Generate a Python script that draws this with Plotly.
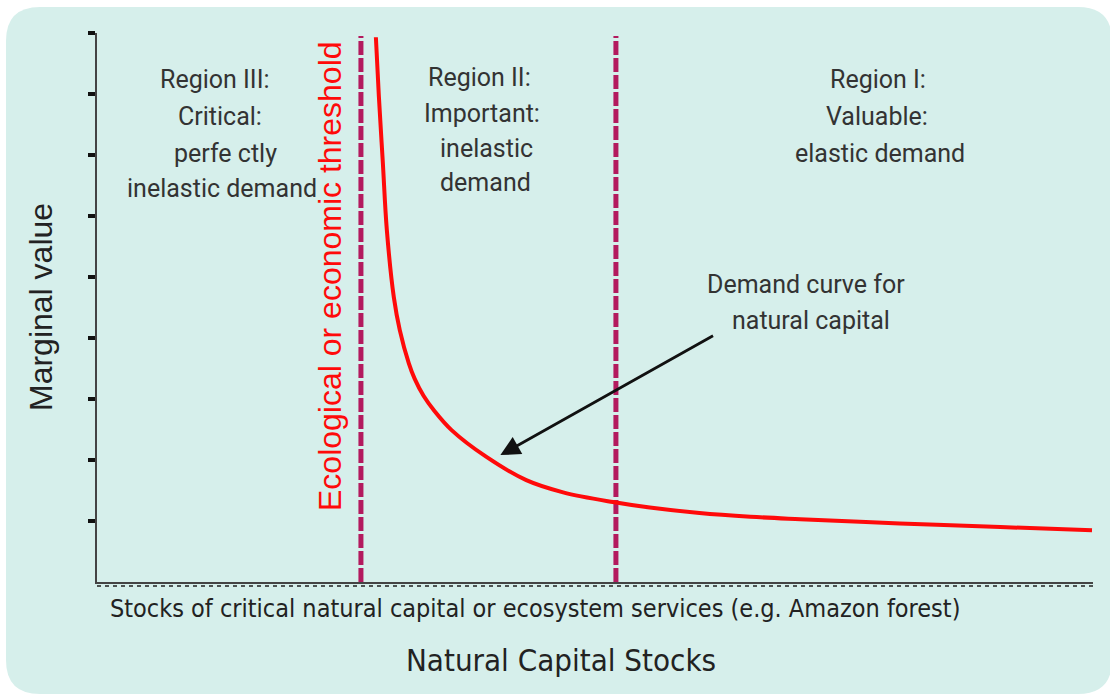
import plotly.graph_objects as go

# ---------------- data ----------------
curve_x = [2.80, 2.83, 2.87, 2.91, 2.98, 3.04, 3.13, 3.19, 3.28, 3.39, 3.56, 3.91, 4.31, 4.68,
           5.18, 5.55, 6.05, 6.56, 7.06, 8.06, 9.07, 9.99]
curve_y = [8.93, 7.96, 6.87, 5.77, 4.67, 4.13, 3.59, 3.33, 3.05, 2.80, 2.49, 2.05, 1.67, 1.47,
           1.31, 1.22, 1.13, 1.07, 1.03, 0.96, 0.90, 0.85]
thresholds = [2.65, 5.21]
threshold_top = 8.95
y_ticks = [1, 2, 3, 4, 5, 6, 7, 8, 9]
arrow_tail = (6.20, 4.05)
arrow_head = (4.05, 2.08)

region3_lines = ["Region III:", "Critical:", "perfe ctly", "inelastic demand"]
region2_lines = ["Region II:", "Important:", "inelastic", "demand"]
region1_lines = ["Region I:", "Valuable:", "elastic demand"]
demand_lines = ["Demand curve for", "natural capital"]
threshold_label = "Ecological or economic threshold"
x_sub_label = "Stocks of critical natural capital or ecosystem services (e.g. Amazon forest)"
x_title = "Natural Capital Stocks"
y_title = "Marginal value"

# ---------------- layout geometry (pixels) ----------------
W, H = 1110, 698
PL, PR, PT, PB = 97, 1093, 33, 582


def X(px):
    return (px - PL) / (PR - PL)


def Y(py):
    return (PB - py) / (PB - PT)


BG = "#D6EFEB"
TXT = "#333333"
REGION_FONT = "Roboto, Arial, sans-serif"
NARROW_FONT = "Liberation Sans Narrow, Arial Narrow, DejaVu Sans Condensed, sans-serif"
ARIAL = "Liberation Sans, Arial, sans-serif"

fig = go.Figure()

# threshold lines
for t in thresholds:
    fig.add_trace(go.Scatter(
        x=[t, t], y=[0, threshold_top], mode="lines",
        line=dict(color="#B31A5E", width=5, dash="14px,3px"),
        hoverinfo="skip", showlegend=False))

# demand curve
fig.add_trace(go.Scatter(
    x=curve_x, y=curve_y, mode="lines",
    line=dict(color="#FF0A0A", width=4, shape="spline", smoothing=1.0),
    hoverinfo="skip", showlegend=False))

annotations = []


def text_line(txt, cx, cy, size, font=REGION_FONT, color=TXT, angle=0):
    annotations.append(dict(
        text=txt, x=X(cx), y=Y(cy), xref="paper", yref="paper",
        showarrow=False, xanchor="center", yanchor="middle",
        textangle=angle, font=dict(family=font, size=size, color=color)))


for txt, cx, cy in zip(region3_lines, [215, 220, 225, 222], [80, 117, 153, 188]):
    text_line(txt, cx, cy, 25)
for txt, cx, cy in zip(region2_lines, [479, 482, 486, 485], [77, 113, 148, 183]):
    text_line(txt, cx, cy, 25)
for txt, cx, cy in zip(region1_lines, [878, 877, 880], [80, 117, 153]):
    text_line(txt, cx, cy, 25)
for txt, cx, cy in zip(demand_lines, [806, 811], [284, 320]):
    text_line(txt, cx, cy, 25)

text_line(threshold_label, 330, 276, 32, font=ARIAL, color="#FF0A0A", angle=-90)
text_line(y_title, 41, 307, 32, font=ARIAL, color="#222222", angle=-90)
text_line(x_sub_label, 535, 608, 25, font=NARROW_FONT, color="#222222")
text_line(x_title, 561, 660, 31, font=NARROW_FONT, color="#222222")

# arrow
annotations.append(dict(
    x=arrow_head[0], y=arrow_head[1], ax=arrow_tail[0], ay=arrow_tail[1],
    xref="x", yref="y", axref="x", ayref="y", text="", showarrow=True,
    arrowhead=2, arrowsize=1.4, arrowwidth=2.8, arrowcolor="#111111", standoff=0))

# rounded background panel
L, T, R, B, r = 6, 7, 1112, 694, 34
panel = (f"M {X(L)},{Y(T + r)} Q {X(L)},{Y(T)} {X(L + r)},{Y(T)} "
         f"L {X(R - r)},{Y(T)} Q {X(R)},{Y(T)} {X(R)},{Y(T + r)} "
         f"L {X(R)},{Y(B - r)} Q {X(R)},{Y(B)} {X(R - r)},{Y(B)} "
         f"L {X(L + r)},{Y(B)} Q {X(L)},{Y(B)} {X(L)},{Y(B - r)} Z")

shapes = [
    dict(type="path", path=panel, xref="paper", yref="paper",
         fillcolor=BG, line=dict(width=0), layer="below"),
    dict(type="line", xref="paper", yref="paper", x0=0, x1=1, y0=Y(586), y1=Y(586),
         line=dict(color="#222222", width=1.5, dash="4px,4px")),
]

fig.update_layout(
    width=W, height=H,
    margin=dict(l=PL, r=W - PR, t=PT, b=H - PB, pad=0),
    paper_bgcolor="white", plot_bgcolor="rgba(0,0,0,0)",
    showlegend=False,
    annotations=annotations, shapes=shapes,
    xaxis=dict(range=[0, 10], showgrid=False, zeroline=False, showticklabels=False,
               showline=True, linecolor="#444444", linewidth=2, ticks=""),
    yaxis=dict(range=[0, 9], showgrid=False, zeroline=False, showticklabels=False,
               showline=True, linecolor="#444444", linewidth=2,
               ticks="outside", tickvals=y_ticks, ticklen=7, tickwidth=4, tickcolor="#111111"),
)

fig.write_html("out.html", config={"displayModeBar": False},
               post_script="document.body.style.margin='0';document.body.style.padding='0';")
